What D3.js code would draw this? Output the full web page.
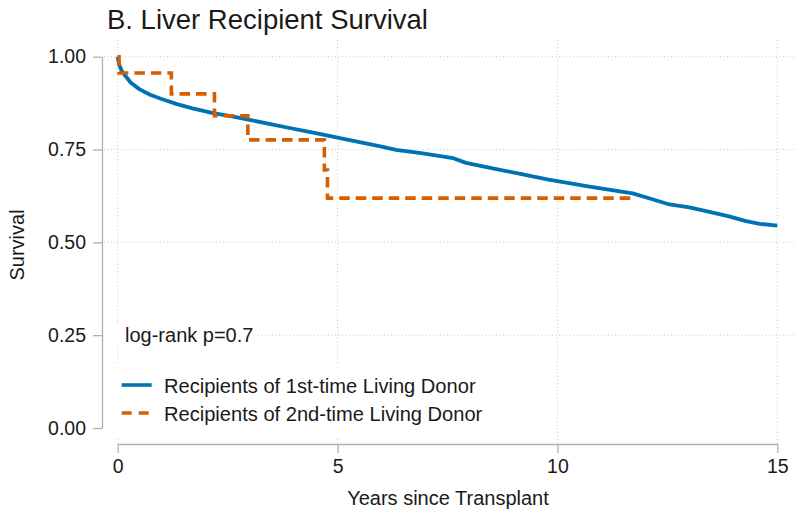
<!DOCTYPE html>
<html><head><meta charset="utf-8">
<script src="https://cdn.jsdelivr.net/npm/d3@7"></script>
<style>
body{margin:0;background:#fff;}
text{font-family:"Liberation Sans",Arial,Helvetica,sans-serif;fill:#1a1a1a;}
</style></head>
<body><svg id="chart" width="800" height="517"></svg>
<script>
// ---- data ----
const firstTimeYears = [0, 0.03, 0.08, 0.15, 0.3, 0.5, 0.75, 1.0, 1.33, 1.7, 2.17, 2.6, 3.0, 3.5, 3.91, 4.3, 4.67, 5.0, 5.5, 6.0, 6.33, 6.9, 7.3, 7.62, 7.92, 8.5, 9.21, 9.8, 10.3, 10.73, 11.2, 11.71, 12.1, 12.55, 13.0, 13.38, 13.9, 14.29, 14.6, 15.0];
const firstTimeSurv  = [1.0, 0.98, 0.965, 0.952, 0.93, 0.912, 0.897, 0.886, 0.873, 0.861, 0.848, 0.839, 0.830, 0.818, 0.808, 0.799, 0.790, 0.782, 0.770, 0.758, 0.749, 0.740, 0.733, 0.727, 0.714, 0.700, 0.683, 0.669, 0.659, 0.650, 0.641, 0.632, 0.618, 0.602, 0.594, 0.584, 0.570, 0.557, 0.550, 0.545];
const secondTimeYears = [0, 0.03, 1.22, 2.2, 2.96, 4.70, 4.77, 11.71];
const secondTimeSurv  = [1.0, 0.956, 0.900, 0.841, 0.776, 0.695, 0.619, 0.619];
const xTicks = [0, 5, 10, 15];
const yTicks = [0, 0.25, 0.5, 0.75, 1.0];
const seriesNames = ["Recipients of 1st-time Living Donor", "Recipients of 2nd-time Living Donor"];
const titleText = "B. Liver Recipient Survival";
const annotation = "log-rank p=0.7";

// ---- layout ----
const blue = "#0072B2", orange = "#D55E00";
const svg = d3.select("#chart");
const x = d3.scaleLinear().domain([0, 15]).range([117.7, 777.3]);
const y = d3.scaleLinear().domain([0, 1]).range([428, 56.7]);

// gridlines
const grid = svg.append("g").attr("stroke", "#c8c8c8").attr("stroke-width", 1).attr("stroke-dasharray", "1,2.5");
grid.selectAll(".hg").data(yTicks.filter(d => d > 0)).join("line")
  .attr("x1", 104).attr("x2", 797).attr("y1", d => y(d)).attr("y2", d => y(d));
grid.selectAll(".vg").data(xTicks).join("line")
  .attr("x1", d => x(d)).attr("x2", d => x(d)).attr("y1", 40).attr("y2", 444);

// axes
const yAxis = svg.append("g").attr("transform", "translate(102,0)")
  .call(d3.axisLeft(y).tickValues(yTicks).tickFormat(d3.format(".2f")).tickSize(9).tickSizeOuter(0).tickPadding(7));
const xAxis = svg.append("g").attr("transform", "translate(0,444)")
  .call(d3.axisBottom(x).tickValues(xTicks).tickFormat(d3.format("d")).tickSize(9).tickSizeOuter(0).tickPadding(6));
[yAxis, xAxis].forEach(a => {
  a.selectAll("path, line").attr("stroke", "#b0b0b0").attr("stroke-width", 1.3);
  a.selectAll("text").attr("font-size", 19.5).attr("fill", "#1a1a1a")
    .style("font-family", '"Liberation Sans",Arial,sans-serif');
});

// curves
const line1 = d3.line().x(d => x(d[0])).y(d => y(d[1]));
svg.append("path").datum(d3.zip(firstTimeYears, firstTimeSurv))
  .attr("d", line1).attr("fill", "none").attr("stroke", blue).attr("stroke-width", 3.8)
  .attr("stroke-linejoin", "round");
const line2 = d3.line().x(d => x(d[0])).y(d => y(d[1])).curve(d3.curveStepAfter);
svg.append("path").datum(d3.zip(secondTimeYears, secondTimeSurv))
  .attr("d", line2).attr("fill", "none").attr("stroke", orange).attr("stroke-width", 3.6)
  .attr("stroke-dasharray", "10.5,6");

// annotation with white box
svg.append("rect").attr("x", 104).attr("y", 324).attr("width", 152).attr("height", 22).attr("fill", "#fff");
svg.append("text").attr("x", 125).attr("y", 342).attr("font-size", 20).text(annotation);

// legend
svg.append("rect").attr("x", 108).attr("y", 363).attr("width", 375).attr("height", 75).attr("fill", "#fff");
const leg = svg.append("g");
const legColors = [blue, orange];
seriesNames.forEach((name, i) => {
  const ly = 385 + i * 28;
  leg.append("line").attr("x1", 121.7).attr("x2", 151.7).attr("y1", ly).attr("y2", ly)
    .attr("stroke", legColors[i]).attr("stroke-width", 3.6)
    .attr("stroke-dasharray", i === 1 ? "10,7" : null);
  leg.append("text").attr("x", 164).attr("y", ly + 8.3).attr("font-size", 20.1).text(name);
});

// titles
svg.append("text").attr("x", 107).attr("y", 29).attr("font-size", 27.5).text(titleText);
svg.append("text").attr("x", 448).attr("y", 505).attr("text-anchor", "middle").attr("font-size", 20).text("Years since Transplant");
svg.append("text").attr("transform", "translate(24,245) rotate(-90)").attr("text-anchor", "middle").attr("font-size", 20).text("Survival");
</script></body></html>
